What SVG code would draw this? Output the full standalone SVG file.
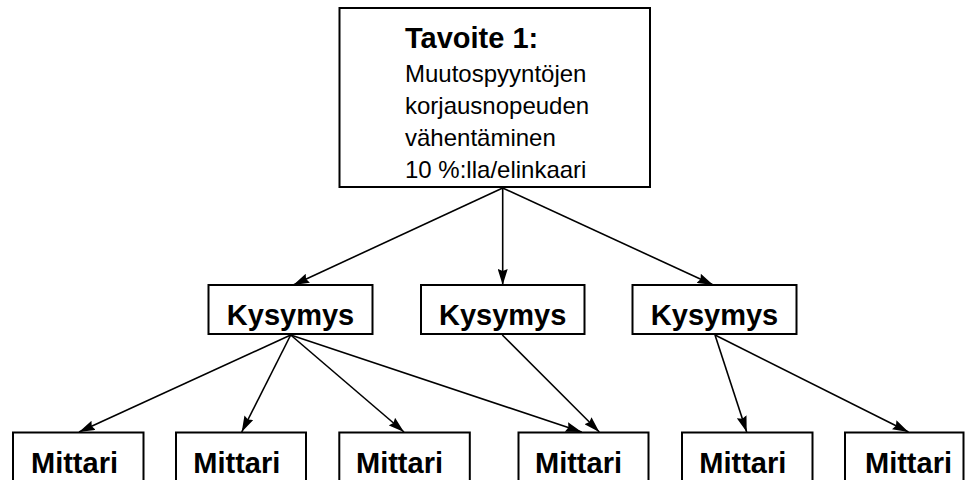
<svg xmlns="http://www.w3.org/2000/svg" width="965" height="480" viewBox="0 0 965 480">
  <style>
    .box { fill: #fff; stroke: #000; stroke-width: 2; }
    .lbl { font-family: "Liberation Sans", Arial, sans-serif; font-weight: bold; font-size: 29px; fill: #000; }
    .body { font-family: "Liberation Sans", Arial, sans-serif; font-size: 24px; fill: #000; }
    .edge { stroke: #000; stroke-width: 1.6; fill: none; marker-end: url(#arrow); }
  </style>
  <defs>
    <marker id="arrow" viewBox="0 0 16 10" refX="16" refY="5" markerWidth="16" markerHeight="10" markerUnits="userSpaceOnUse" orient="auto">
      <path d="M0,0 L16,5 L0,10 L2,5 z" fill="#000"/>
    </marker>
  </defs>

  <!-- goal -->
  <g id="goal">
    <rect class="box" x="339.5" y="8" width="310.5" height="179"/>
    <text class="lbl" x="405" y="48">Tavoite 1:</text>
    <text class="body" x="405" y="82">Muutospyyntöjen</text>
    <text class="body" x="405" y="114">korjausnopeuden</text>
    <text class="body" x="405" y="146">vähentäminen</text>
    <text class="body" x="405" y="178">10 %:lla/elinkaari</text>
  </g>

  <!-- questions -->
  <g id="q1">
    <rect class="box" x="208.5" y="285" width="164" height="49"/>
    <text class="lbl" x="290.5" y="325" text-anchor="middle">Kysymys</text>
  </g>
  <g id="q2">
    <rect class="box" x="421" y="285" width="163.5" height="49"/>
    <text class="lbl" x="502.7" y="325" text-anchor="middle">Kysymys</text>
  </g>
  <g id="q3">
    <rect class="box" x="632.5" y="285" width="164" height="49"/>
    <text class="lbl" x="714.5" y="325" text-anchor="middle">Kysymys</text>
  </g>

  <!-- metrics -->
  <g id="m1">
    <rect class="box" x="13" y="432.5" width="130.5" height="60"/>
    <text class="lbl" x="31" y="472.7">Mittari</text>
  </g>
  <g id="m2">
    <rect class="box" x="176" y="432.5" width="130" height="60"/>
    <text class="lbl" x="193.3" y="472.7">Mittari</text>
  </g>
  <g id="m3">
    <rect class="box" x="339.3" y="432.5" width="130.5" height="60"/>
    <text class="lbl" x="356" y="472.7">Mittari</text>
  </g>
  <g id="m4">
    <rect class="box" x="518.5" y="432.5" width="130" height="60"/>
    <text class="lbl" x="535" y="472.7">Mittari</text>
  </g>
  <g id="m5">
    <rect class="box" x="682" y="432.5" width="130.5" height="60"/>
    <text class="lbl" x="699.3" y="472.7">Mittari</text>
  </g>
  <g id="m6">
    <rect class="box" x="845" y="432.5" width="118.5" height="60"/>
    <text class="lbl" x="865" y="472.7">Mittari</text>
  </g>

  <!-- connectors -->
  <g id="connectors">
    <line class="edge" x1="502.7" y1="188" x2="293.3" y2="285"/>
    <line class="edge" x1="502.7" y1="188" x2="502.7" y2="285"/>
    <line class="edge" x1="502.7" y1="188" x2="713.3" y2="285"/>

    <line class="edge" x1="290.7" y1="335" x2="79" y2="432"/>
    <line class="edge" x1="290.7" y1="335" x2="241.7" y2="432"/>
    <line class="edge" x1="290.7" y1="335" x2="404" y2="432"/>
    <line class="edge" x1="290.7" y1="335" x2="581.7" y2="432"/>

    <line class="edge" x1="502.3" y1="335" x2="599.3" y2="432"/>

    <line class="edge" x1="715" y1="335" x2="746.7" y2="432"/>
    <line class="edge" x1="715" y1="335" x2="908.5" y2="432"/>
  </g>
</svg>
